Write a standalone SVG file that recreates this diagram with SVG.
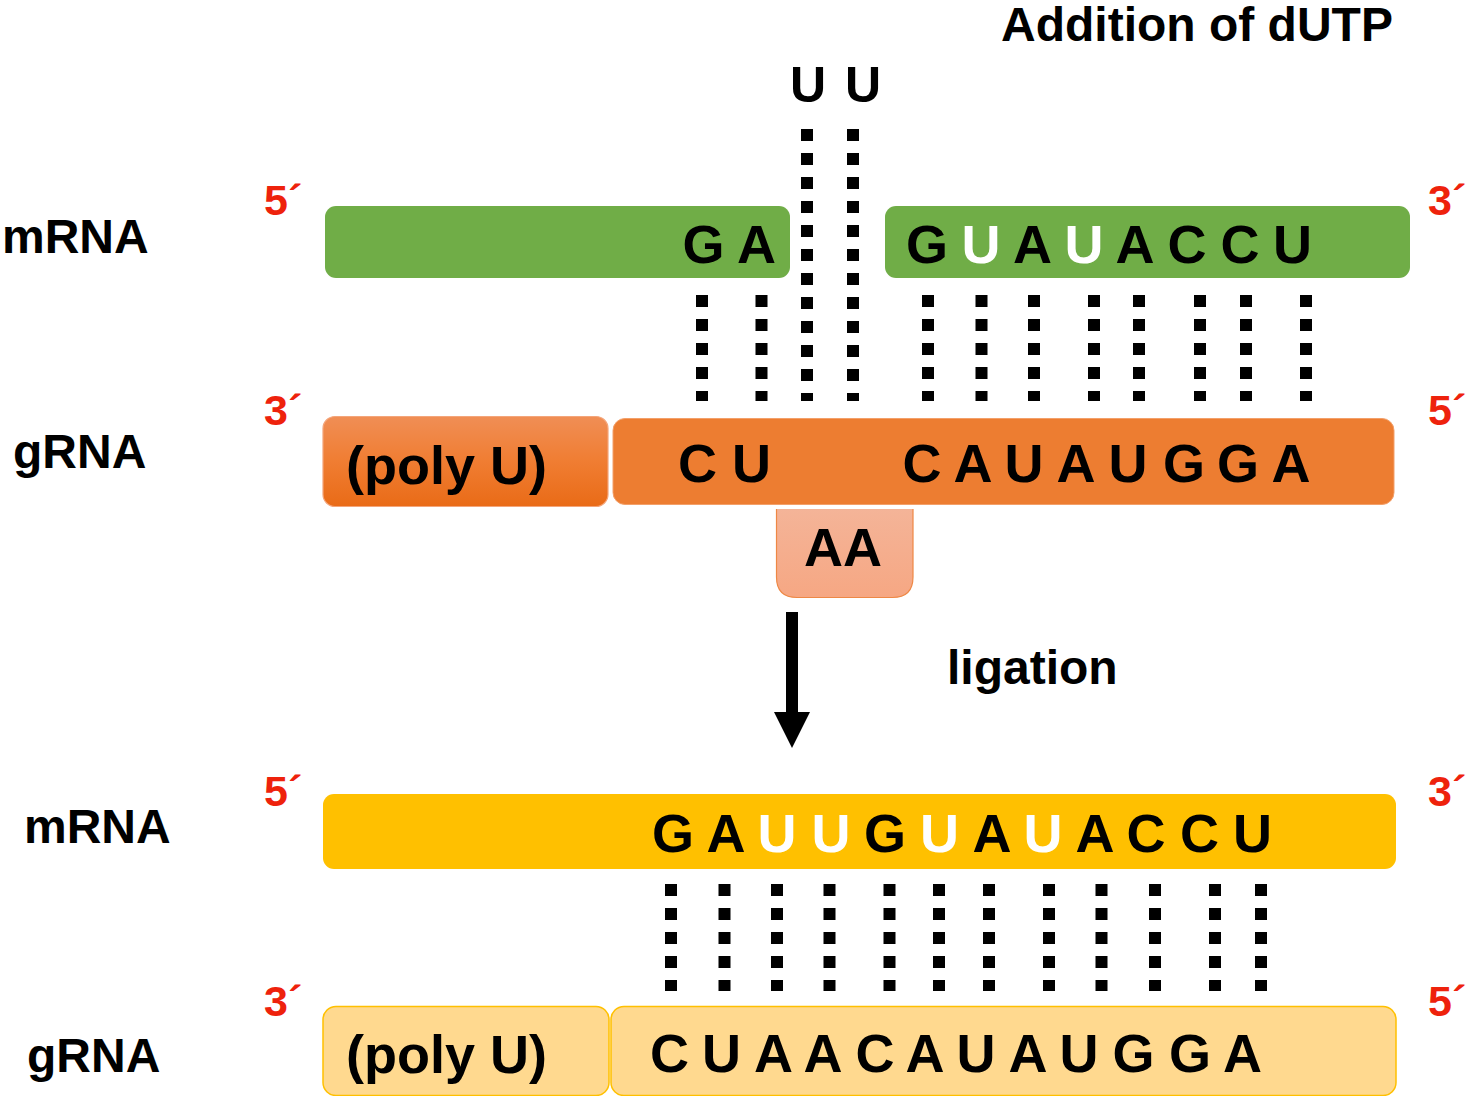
<svg xmlns="http://www.w3.org/2000/svg" width="1471" height="1096" viewBox="0 0 1471 1096">
<defs>
<linearGradient id="gPoly" x1="0" y1="0" x2="0" y2="1">
<stop offset="0" stop-color="#F08E55"/>
<stop offset="0.5" stop-color="#F07D32"/>
<stop offset="1" stop-color="#E96B17"/>
</linearGradient>
<linearGradient id="gAA" x1="0" y1="0" x2="0" y2="1">
<stop offset="0" stop-color="#F4B498"/>
<stop offset="1" stop-color="#F6A783"/>
</linearGradient>
</defs>
<style>
text{font-family:"Liberation Sans",Arial,Helvetica,sans-serif;font-weight:bold;}
.lbl{font-size:48px;fill:#000;}
.end{font-size:43px;fill:#EE220C;}
.seq{font-size:54px;fill:#000;}
.w{fill:#FFFFFF;}
.bp{stroke:#000;stroke-width:12;stroke-dasharray:12 12;fill:none;}
</style>
<rect width="1471" height="1096" fill="#FFFFFF"/>

<g id="title">
<text class="lbl" x="1001" y="41">Addition of dUTP</text>
</g>
<g id="added-uu">
<text class="lbl" y="102" style="font-size:50px"><tspan x="790">U</tspan> <tspan x="845">U</tspan></text>
</g>

<g id="labels-top">
<text class="lbl" x="2" y="253">mRNA</text>
<text class="lbl" x="13" y="468">gRNA</text>
<text class="end" x="264" y="215">5´</text>
<text class="end" x="1428" y="215">3´</text>
<text class="end" x="264" y="425">3´</text>
<text class="end" x="1428" y="425">5´</text>
</g>

<g id="mrna-top-left">
<rect x="325" y="206" width="465" height="72" rx="11" fill="#70AD47"/>
<text class="seq" y="263"><tspan x="682.5">G</tspan> <tspan x="737">A</tspan></text>
</g>
<g id="mrna-top-right">
<rect x="885" y="206" width="525" height="72" rx="11" fill="#70AD47"/>
<text class="seq" y="263"><tspan x="906">G</tspan> <tspan x="961.5" class="w">U</tspan> <tspan x="1013">A</tspan> <tspan x="1064.5" class="w">U</tspan> <tspan x="1115.5">A</tspan> <tspan x="1167.5">C</tspan> <tspan x="1220.5">C</tspan> <tspan x="1273">U</tspan></text>
</g>

<g id="polyu-top">
<rect x="323" y="416.5" width="285" height="90" rx="12" fill="url(#gPoly)" stroke="#F4A57A" stroke-width="1.2"/>
<text class="seq" x="346" y="484">(poly U)</text>
</g>
<g id="grna-top">
<rect x="613" y="418.5" width="781" height="86" rx="12" fill="#ED7D31" stroke="#F3A06A" stroke-width="1"/>
<text class="seq" y="482"><tspan x="678">C</tspan> <tspan x="732">U</tspan></text>
<text class="seq" y="482"><tspan x="902.5">C</tspan> <tspan x="953.5">A</tspan> <tspan x="1004.5">U</tspan> <tspan x="1056.5">A</tspan> <tspan x="1108.5">U</tspan> <tspan x="1163">G</tspan> <tspan x="1217">G</tspan> <tspan x="1271.5">A</tspan></text>
</g>
<g id="aa-loop">
<path d="M776.5,509 V577 Q776.5,597.5 797,597.5 H892.5 Q913,597.5 913,577 V509 Z" fill="url(#gAA)"/>
<path d="M776.5,509 V577 Q776.5,597.5 797,597.5 H892.5 Q913,597.5 913,577 V509" fill="none" stroke="#EE8845" stroke-width="1.2"/>
<text class="seq" x="843" y="566" text-anchor="middle">AA</text>
</g>

<g id="ligation-label">
<text class="lbl" x="947" y="684">ligation</text>
</g>

<g id="labels-bottom">
<text class="lbl" x="24" y="843">mRNA</text>
<text class="lbl" x="27" y="1072">gRNA</text>
<text class="end" x="264" y="806">5´</text>
<text class="end" x="1428" y="806">3´</text>
<text class="end" x="264" y="1016">3´</text>
<text class="end" x="1428" y="1016">5´</text>
</g>

<g id="mrna-bottom">
<rect x="323" y="794" width="1073" height="75" rx="11" fill="#FFC000"/>
<text class="seq" y="852"><tspan x="652">G</tspan> <tspan x="706.5">A</tspan> <tspan x="757.5" class="w">U</tspan> <tspan x="811.5" class="w">U</tspan> <tspan x="864">G</tspan> <tspan x="920" class="w">U</tspan> <tspan x="972.5">A</tspan> <tspan x="1023.5" class="w">U</tspan> <tspan x="1075.5">A</tspan> <tspan x="1126.5">C</tspan> <tspan x="1180">C</tspan> <tspan x="1233">U</tspan></text>
</g>
<g id="polyu-bottom">
<rect x="323" y="1006.5" width="286" height="89" rx="13" fill="#FFD98F" stroke="#FFC000" stroke-width="1.5"/>
<text class="seq" x="346" y="1073">(poly U)</text>
</g>
<g id="grna-bottom">
<rect x="611" y="1006.5" width="785" height="89" rx="13" fill="#FFD98F" stroke="#FFC000" stroke-width="1.5"/>
<text class="seq" y="1072"><tspan x="650">C</tspan> <tspan x="702">U</tspan> <tspan x="754">A</tspan> <tspan x="803.5">A</tspan> <tspan x="855.5">C</tspan> <tspan x="905.5">A</tspan> <tspan x="956.5">U</tspan> <tspan x="1008.5">A</tspan> <tspan x="1059.5">U</tspan> <tspan x="1112.5">G</tspan> <tspan x="1169">G</tspan> <tspan x="1223">A</tspan></text>
</g>

<g id="connectors">
<g id="uu-pairs">
<line class="bp" x1="807" y1="129" x2="807" y2="401"/>
<line class="bp" x1="853" y1="129" x2="853" y2="401"/>
</g>
<g id="top-pairs">
<line class="bp" x1="702" y1="295" x2="702" y2="401"/>
<line class="bp" x1="761.5" y1="295" x2="761.5" y2="401"/>
<line class="bp" x1="928" y1="295" x2="928" y2="401"/>
<line class="bp" x1="981.5" y1="295" x2="981.5" y2="401"/>
<line class="bp" x1="1034" y1="295" x2="1034" y2="401"/>
<line class="bp" x1="1094" y1="295" x2="1094" y2="401"/>
<line class="bp" x1="1139" y1="295" x2="1139" y2="401"/>
<line class="bp" x1="1200" y1="295" x2="1200" y2="401"/>
<line class="bp" x1="1246" y1="295" x2="1246" y2="401"/>
<line class="bp" x1="1306" y1="295" x2="1306" y2="401"/>
</g>
<g id="bottom-pairs">
<line class="bp" x1="671" y1="884" x2="671" y2="991"/>
<line class="bp" x1="724.5" y1="884" x2="724.5" y2="991"/>
<line class="bp" x1="777" y1="884" x2="777" y2="991"/>
<line class="bp" x1="829.5" y1="884" x2="829.5" y2="991"/>
<line class="bp" x1="889.5" y1="884" x2="889.5" y2="991"/>
<line class="bp" x1="939" y1="884" x2="939" y2="991"/>
<line class="bp" x1="989" y1="884" x2="989" y2="991"/>
<line class="bp" x1="1049" y1="884" x2="1049" y2="991"/>
<line class="bp" x1="1101.5" y1="884" x2="1101.5" y2="991"/>
<line class="bp" x1="1155" y1="884" x2="1155" y2="991"/>
<line class="bp" x1="1215" y1="884" x2="1215" y2="991"/>
<line class="bp" x1="1261" y1="884" x2="1261" y2="991"/>
</g>
<g id="ligation-arrow">
<rect x="786" y="612" width="12" height="101" fill="#000"/>
<polygon points="774,712 810,712 792,748" fill="#000"/>
</g>
</g>
</svg>
